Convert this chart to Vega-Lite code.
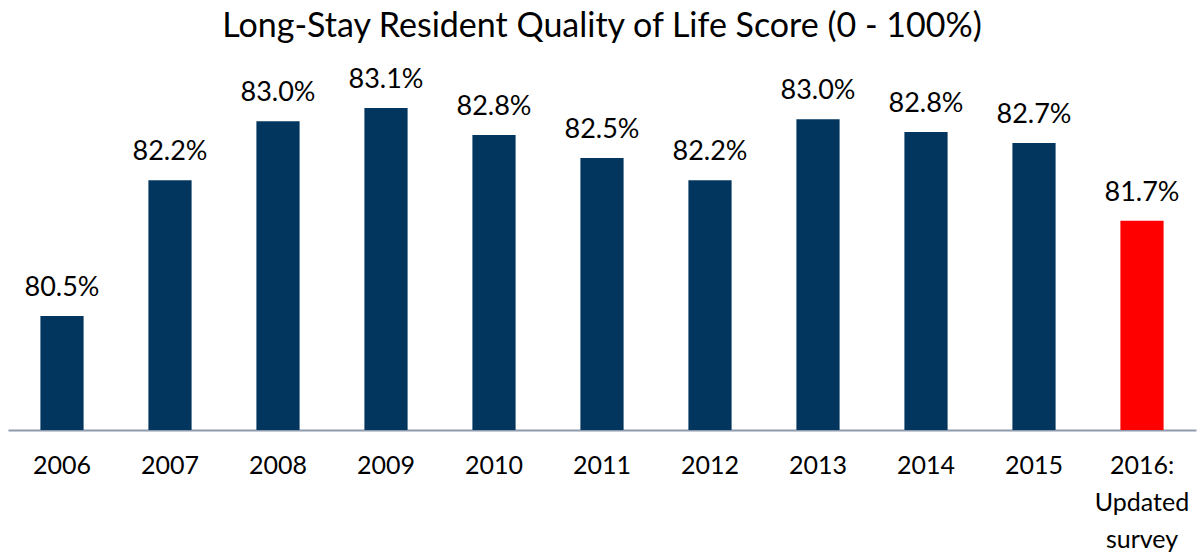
{
  "$schema": "https://vega.github.io/schema/vega-lite/v6.json",
  "autosize": "none",
  "width": 1188,
  "height": 360,
  "padding": {"left": 8, "top": 70, "right": 6, "bottom": 126},
  "background": "white",
  "title": {
    "text": "Long-Stay Resident Quality of Life Score (0 - 100%)",
    "font": "Lato",
    "fontSize": 34,
    "fontWeight": "normal",
    "color": "black",
    "anchor": "middle",
    "offset": 22
  },
  "data": {
    "values": [
      {"year": "2006", "score": 80.5, "group": "old"},
      {"year": "2007", "score": 82.21, "group": "old"},
      {"year": "2008", "score": 82.955, "group": "old"},
      {"year": "2009", "score": 83.12, "group": "old"},
      {"year": "2010", "score": 82.78, "group": "old"},
      {"year": "2011", "score": 82.49, "group": "old"},
      {"year": "2012", "score": 82.21, "group": "old"},
      {"year": "2013", "score": 82.98, "group": "old"},
      {"year": "2014", "score": 82.82, "group": "old"},
      {"year": "2015", "score": 82.68, "group": "old"},
      {"year": "2016: Updated survey", "score": 81.7, "group": "new"}
    ]
  },
  "encoding": {
    "x": {
      "field": "year",
      "type": "nominal",
      "sort": null,
      "scale": {"paddingInner": 0.6, "paddingOuter": 0.3},
      "axis": {
        "title": null,
        "labelAngle": 0,
        "labelFont": "Lato",
        "labelFontSize": 25,
        "labelColor": "black",
        "labelPadding": 23,
        "labelLineHeight": 37,
        "labelExpr": "split(datum.label, ' ')",
        "ticks": false,
        "domainColor": "#8e9aae",
        "domainWidth": 2,
        "labelBaseline": "top"
      }
    },
    "y": {
      "field": "score",
      "type": "quantitative",
      "scale": {"domain": [79.065, 83.6], "zero": false},
      "axis": null
    }
  },
  "layer": [
    {
      "mark": {"type": "bar", "clip": false},
      "encoding": {
        "y2": {"datum": 79.065},
        "color": {
          "field": "group",
          "type": "nominal",
          "scale": {"domain": ["old", "new"], "range": ["#03365f", "#ff0000"]},
          "legend": null
        }
      }
    },
    {
      "mark": {
        "type": "text",
        "font": "Lato",
        "fontSize": 27,
        "color": "black",
        "baseline": "alphabetic",
        "dy": -20,
        "text": {"expr": "format(datum.score, '.1f') + '%'"}
      },
      "encoding": {}
    }
  ],
  "config": {"view": {"stroke": null}}
}
